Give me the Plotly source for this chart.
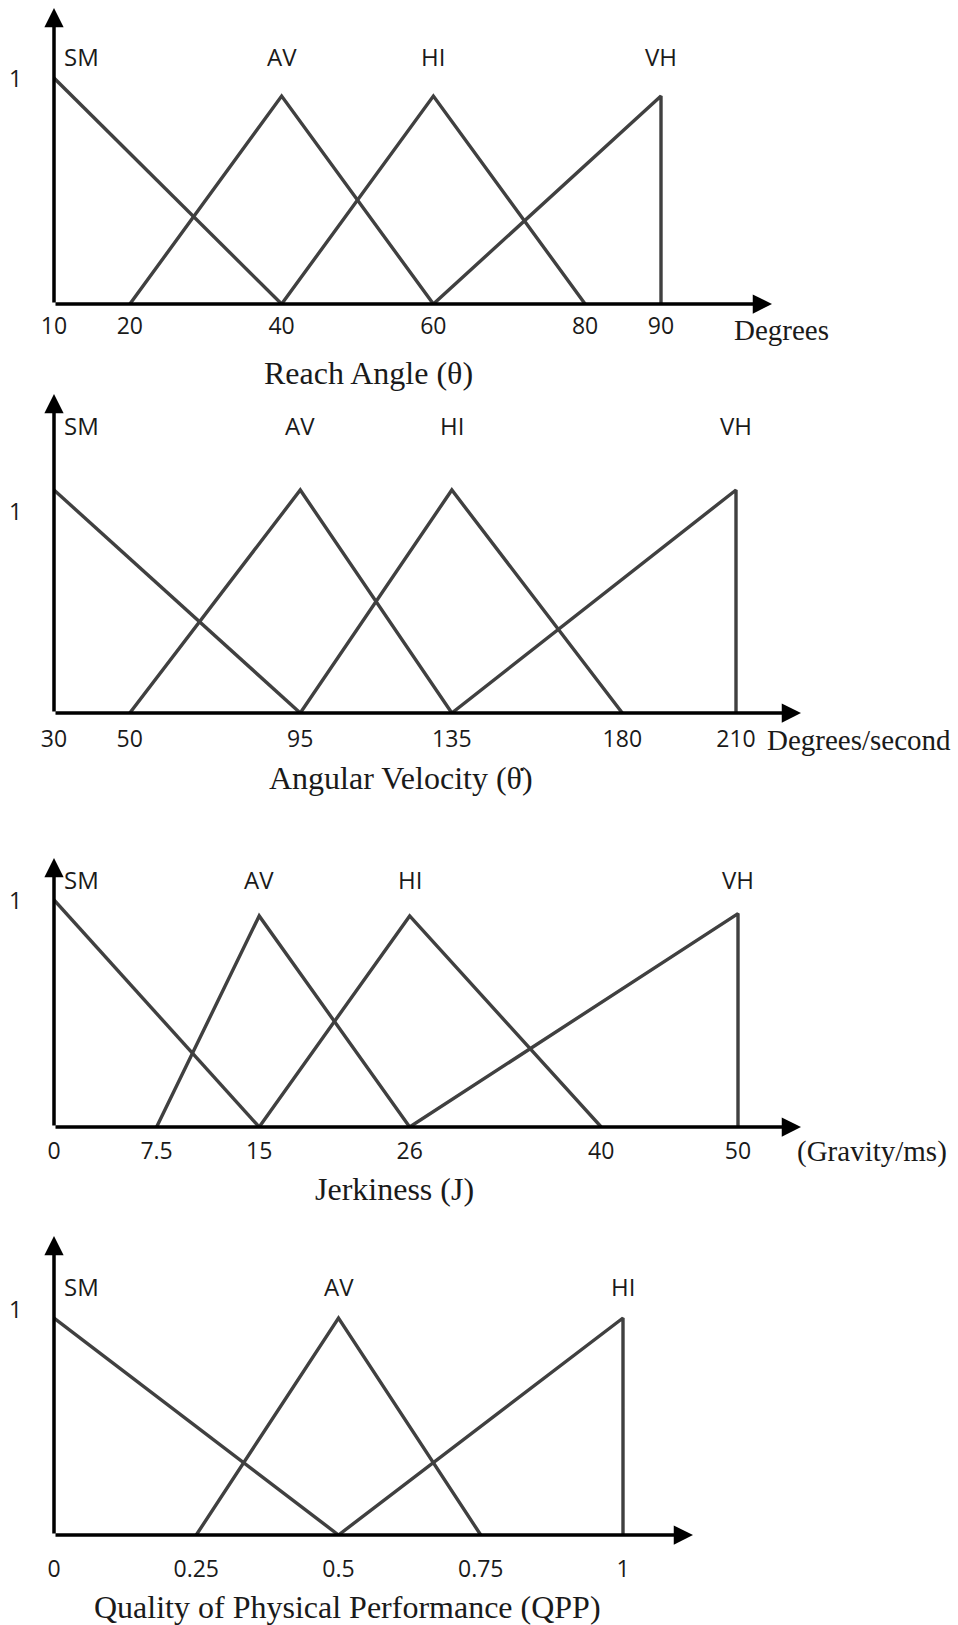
import plotly.graph_objects as go

# ---------------- data ----------------
reach_names = ["SM", "AV", "HI", "VH"]
reach_ticks = [10, 20, 40, 60, 80, 90]
reach_x = [[10, 40], [20, 40, 60], [40, 60, 80], [60, 90, 90]]
reach_mu = [[1, 0], [0, 0.92, 0], [0, 0.92, 0], [0, 0.92, 0]]

vel_names = ["SM", "AV", "HI", "VH"]
vel_ticks = [30, 50, 95, 135, 180, 210]
vel_x = [[30, 95], [50, 95, 135], [95, 135, 180], [135, 210, 210]]
vel_mu = [[1, 0], [0, 1, 0], [0, 1, 0], [0, 1, 0]]

jerk_names = ["SM", "AV", "HI", "VH"]
jerk_ticks = [0, 7.5, 15, 26, 40, 50]
jerk_x = [[0, 15], [7.5, 15, 26], [15, 26, 40], [26, 50, 50]]
jerk_mu = [[1, 0], [0, 0.93, 0], [0, 0.93, 0], [0, 0.94, 0]]

qpp_names = ["SM", "AV", "HI"]
qpp_ticks = [0, 0.25, 0.5, 0.75, 1]
qpp_x = [[0, 0.5], [0.25, 0.5, 0.75], [0.5, 1, 1]]
qpp_mu = [[1, 0], [0, 1, 0], [0, 1, 0]]

titles = ["Reach Angle (θ)", "Angular Velocity (θ̇)", "Jerkiness (J)",
          "Quality of Physical Performance (QPP)"]
units = ["Degrees", "Degrees/second", "(Gravity/ms)", ""]

# ---------------- layout (pixels) ----------------
W, H = 958, 1625
LINE = "#404040"
TXT = "#1a1a1a"
SANS = "Open Sans, Noto Sans, sans-serif"
SERIF = "Liberation Serif, Times New Roman, serif"

# left/end: px of first/last tick, arrow: x-arrow tip, base/one/top: py of
# y=0, y=1 and y-arrow tip, lab: py of set labels, onelab: py of the "1",
# so: tick label standoff
geom = [
    dict(left=54, end=661, arrow=772, base=304, one=78, top=8, lab=57,
         onelab=78, tx=368, ty=373, ux=781, uy=330, so=6),
    dict(left=54, end=736, arrow=801, base=713, one=490, top=394, lab=425,
         onelab=511, tx=401, ty=778, ux=859, uy=740, so=10),
    dict(left=54, end=738, arrow=801, base=1127, one=900, top=858, lab=879,
         onelab=900, tx=394, ty=1189, ux=872, uy=1151, so=8),
    dict(left=54, end=623, arrow=693, base=1535, one=1318, top=1236, lab=1286,
         onelab=1309, tx=347, ty=1607, ux=0, uy=0, so=18),
]

fig = go.Figure()
annotations = []


def add_panel(n, names, xs, mus, ticks, title, unit, g):
    sfx = "" if n == 1 else str(n)
    xa, ya = "x" + sfx, "y" + sfx
    v0, v1 = ticks[0], ticks[-1]
    per_px = (v1 - v0) / (g["end"] - g["left"])
    xmax = v0 + (g["arrow"] - g["left"]) * per_px
    unit_y = 1.0 / (g["base"] - g["one"])
    ymax = (g["base"] - g["top"]) * unit_y

    fig.update_layout({
        "xaxis" + sfx: dict(
            domain=[g["left"] / W, g["arrow"] / W], range=[v0, xmax],
            anchor=ya, showgrid=False, zeroline=False, showline=False,
            automargin=False,
            tickvals=ticks, ticktext=[f"{t:g}" for t in ticks], ticks="",
            ticklabelstandoff=g["so"],
            tickfont=dict(family=SANS, size=23, color=TXT),
            fixedrange=True),
        "yaxis" + sfx: dict(
            domain=[1 - g["base"] / H, 1 - g["top"] / H], range=[0, ymax],
            anchor=xa, visible=False, automargin=False, fixedrange=True),
    })

    for name, x, mu in zip(names, xs, mus):
        fig.add_trace(go.Scatter(
            x=x, y=mu, mode="lines", line=dict(color=LINE, width=3.4),
            xaxis=xa, yaxis=ya, showlegend=False, hoverinfo="skip",
            cliponaxis=False))
        peak = x[mu.index(max(mu))]
        first = name == names[0]
        annotations.append(dict(
            x=peak, y=(g["base"] - g["lab"]) * unit_y, xref=xa, yref=ya,
            text=name, showarrow=False, yanchor="middle",
            xanchor="left" if first else "center", xshift=8 if first else 0,
            font=dict(family=SANS, size=24, color=TXT)))

    # axes with arrow heads
    for (tx, ty) in [(xmax, 0), (v0, ymax)]:
        annotations.append(dict(
            x=tx, y=ty, ax=v0, ay=0, xref=xa, yref=ya, axref=xa, ayref=ya,
            text="", showarrow=True, arrowhead=2, arrowsize=1.1,
            arrowwidth=3.5, arrowcolor="black", standoff=0))

    annotations.append(dict(
        x=16 / W, y=(g["base"] - g["onelab"]) * unit_y, xref="paper", yref=ya,
        text="1", showarrow=False, xanchor="center", yanchor="middle",
        font=dict(family=SANS, size=23, color=TXT)))
    annotations.append(dict(
        x=g["tx"] / W, y=1 - g["ty"] / H, xref="paper", yref="paper",
        text=title, showarrow=False, xanchor="center", yanchor="middle",
        font=dict(family=SERIF, size=32, color=TXT)))
    if unit:
        annotations.append(dict(
            x=g["ux"] / W, y=1 - g["uy"] / H, xref="paper", yref="paper",
            text=unit, showarrow=False, xanchor="center", yanchor="middle",
            font=dict(family=SERIF, size=29, color=TXT)))


add_panel(1, reach_names, reach_x, reach_mu, reach_ticks, titles[0], units[0], geom[0])
add_panel(2, vel_names, vel_x, vel_mu, vel_ticks, titles[1], units[1], geom[1])
add_panel(3, jerk_names, jerk_x, jerk_mu, jerk_ticks, titles[2], units[2], geom[2])
add_panel(4, qpp_names, qpp_x, qpp_mu, qpp_ticks, titles[3], units[3], geom[3])

fig.update_layout(
    width=W, height=H,
    margin=dict(l=0, r=0, t=0, b=0),
    plot_bgcolor="white", paper_bgcolor="white",
    annotations=annotations,
)

# drop the browser's default 8px body margin so the figure sits at 0,0
fig.write_html("out.html", config={"displayModeBar": False},
               post_script="document.body.style.margin='0px';")
